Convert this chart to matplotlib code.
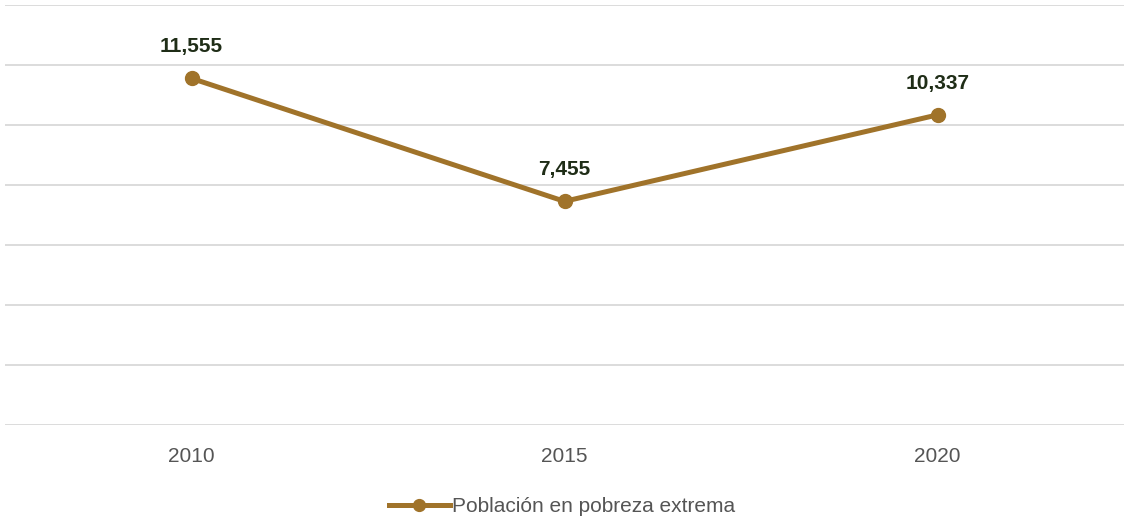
import matplotlib.pyplot as plt
import numpy as np

years = ["2010", "2015", "2020"]
poblacion = [11555, 7455, 10337]
etiquetas = ["11,555", "7,455", "10,337"]

plt.rcParams['font.family'] = ['Liberation Sans', 'DejaVu Sans']

color = '#A0732A'
fig = plt.figure(figsize=(11.24, 5.18), dpi=100)
ax = fig.add_axes([5 / 1124, 1 - 425 / 518, 1 - 5 / 1124, 420 / 518])

x = np.arange(len(years))
ax.plot(x, poblacion, color=color, lw=3.6, marker='o', markersize=10,
        label='Población en pobreza extrema')
for xi, yi, t in zip(x, poblacion, etiquetas):
    ax.annotate(t, (xi, yi), xytext=(0, 16), textcoords='offset points',
                ha='center', va='bottom', fontsize=15, fontweight='bold', color='#1F2D17')

ax.set_xlim(-0.5, 2.5)
ax.set_ylim(0, 14000)
ax.set_yticks(np.arange(0, 14001, 2000))
ax.set_yticklabels([])
ax.set_xticks(x)
ax.set_xticklabels(years, fontsize=15, color='#555555')
ax.tick_params(length=0, pad=16)
ax.grid(axis='y', color='#D9D9D9', lw=1.3)
ax.set_axisbelow(True)
for s in ax.spines.values():
    s.set_visible(False)

fig.legend(loc='lower center', bbox_to_anchor=(0.5, -0.033), frameon=False,
           fontsize=15, labelcolor='#555555', handlelength=2.9, handletextpad=0.1,
           markerscale=0.85)

fig.savefig('out.png', dpi=100)
